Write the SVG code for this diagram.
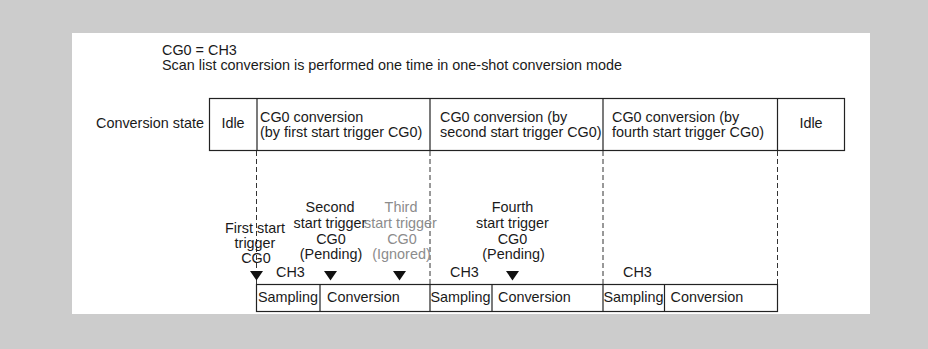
<svg xmlns="http://www.w3.org/2000/svg" width="928" height="349" viewBox="0 0 928 349">
<style>
text{font-family:"Liberation Sans",Arial,sans-serif;font-size:14.4px;fill:#1a1a1a}
.m{text-anchor:middle}
.g{fill:#8c8c8c}
.box{fill:none;stroke:#222;stroke-width:1.2}
.dv{stroke:#222;stroke-width:1.2}
.dash{stroke:#333;stroke-width:1;stroke-dasharray:5 3;fill:none}
.tri{fill:#111}
</style>
<rect x="0" y="0" width="928" height="349" fill="#cccccc"/>
<rect x="72" y="33" width="798" height="281" fill="#ffffff"/>
<g id="header">
<text x="162" y="55">CG0 = CH3</text>
<text x="162" y="70">Scan list conversion is performed one time in one-shot conversion mode</text>
</g>
<g id="conversion-state">
<text x="96" y="128">Conversion state</text>
<rect class="box" x="209.5" y="98.5" width="635" height="52"/>
<line class="dv" x1="257" y1="98.5" x2="257" y2="150.5"/>
<line class="dv" x1="430" y1="98.5" x2="430" y2="150.5"/>
<line class="dv" x1="603" y1="98.5" x2="603" y2="150.5"/>
<line class="dv" x1="777.5" y1="98.5" x2="777.5" y2="150.5"/>
<text class="m" x="233" y="128">Idle</text>
<text x="260" y="121.5">CG0 conversion</text>
<text x="260" y="136.5">(by first start trigger CG0)</text>
<text x="440" y="121.5">CG0 conversion (by</text>
<text x="440" y="136.5">second start trigger CG0)</text>
<text x="612" y="121.5">CG0 conversion (by</text>
<text x="612" y="136.5">fourth start trigger CG0)</text>
<text class="m" x="811" y="128">Idle</text>
</g>
<g id="connectors">
<line class="dash" x1="256.5" y1="151" x2="256.5" y2="284"/>
<line class="dash" x1="430" y1="151" x2="430" y2="284"/>
<line class="dash" x1="603" y1="151" x2="603" y2="284"/>
<line class="dash" x1="777.5" y1="151" x2="777.5" y2="284"/>
</g>
<g id="triggers">
<text class="m" x="255" y="233">First start</text>
<text class="m" x="255" y="248">trigger</text>
<text class="m" x="256" y="263">CG0</text>
<text class="m" x="330" y="212">Second</text>
<text class="m" x="330" y="228">start trigger</text>
<text class="m" x="331" y="243.5">CG0</text>
<text class="m" x="331" y="259">(Pending)</text>
<text class="m g" x="401" y="212">Third</text>
<text class="m g" x="400.5" y="228">start trigger</text>
<text class="m g" x="402" y="243.5">CG0</text>
<text class="m g" x="401.5" y="259">(Ignored)</text>
<text class="m" x="512.5" y="212">Fourth</text>
<text class="m" x="512.5" y="228">start trigger</text>
<text class="m" x="512.5" y="243.5">CG0</text>
<text class="m" x="513.5" y="259">(Pending)</text>
<polygon class="tri" points="250,271 263,271 256.5,280.5"/>
<polygon class="tri" points="324,271 337,271 330.5,280.5"/>
<polygon class="tri" points="393,271 406,271 399.5,280.5"/>
<polygon class="tri" points="506,271 519,271 512.5,280.5"/>
</g>
<g id="channel-row">
<text x="276" y="277">CH3</text>
<text x="450" y="277">CH3</text>
<text x="623" y="277">CH3</text>
<rect class="box" x="256.5" y="284.5" width="521" height="27"/>
<line class="dv" x1="320" y1="284.5" x2="320" y2="311.5"/>
<line class="dv" x1="430" y1="284.5" x2="430" y2="311.5"/>
<line class="dv" x1="492" y1="284.5" x2="492" y2="311.5"/>
<line class="dv" x1="603" y1="284.5" x2="603" y2="311.5"/>
<line class="dv" x1="664.5" y1="284.5" x2="664.5" y2="311.5"/>
<text x="258" y="302">Sampling</text>
<text x="327" y="302">Conversion</text>
<text x="430.5" y="302">Sampling</text>
<text x="498" y="302">Conversion</text>
<text x="603.5" y="302">Sampling</text>
<text x="670.5" y="302">Conversion</text>
</g>
</svg>
